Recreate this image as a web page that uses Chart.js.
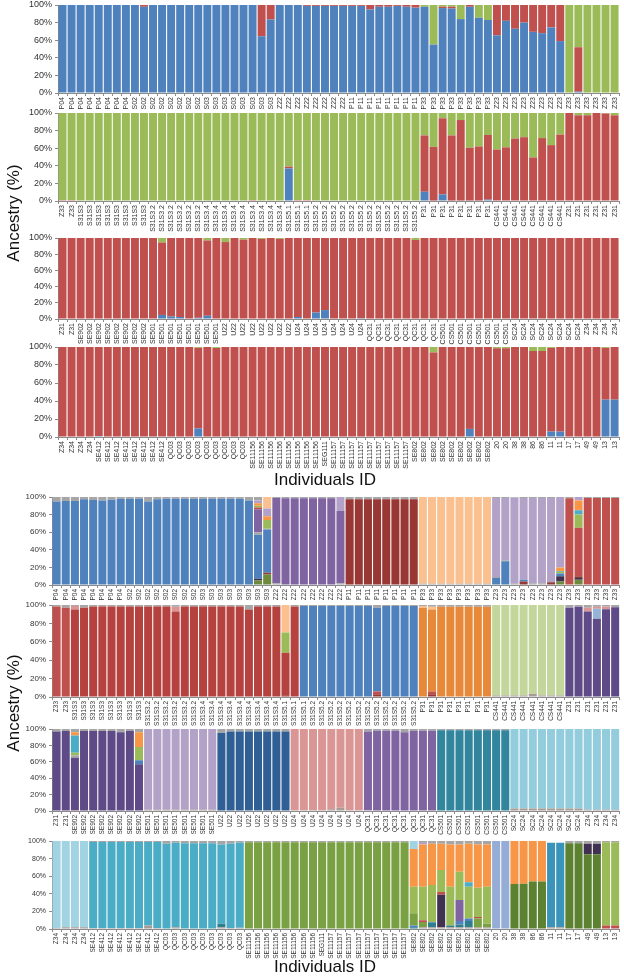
<!DOCTYPE html>
<html><head><meta charset="utf-8">
<script src="https://cdn.jsdelivr.net/npm/chart.js@4.4.1/dist/chart.umd.min.js"></script>
<style>
html,body{margin:0;padding:0;background:#fff;}
body{width:624px;height:980px;position:relative;overflow:hidden;font-family:"Liberation Sans",Arial,sans-serif;}
canvas{position:absolute;left:0;}
.t{position:absolute;color:#111;font-size:17px;white-space:nowrap;transform:translate(-50%,-50%);}
.r{transform:translate(-50%,-50%) rotate(-90deg);}
</style></head>
<body>
<canvas id="c1"></canvas><canvas id="c2"></canvas><canvas id="c3"></canvas><canvas id="c4"></canvas>
<canvas id="c5"></canvas><canvas id="c6"></canvas><canvas id="c7"></canvas><canvas id="c8"></canvas>
<div class="t r" style="left:14px;top:213px">Ancestry (%)</div>
<div class="t" style="left:325px;top:480px">Individuals ID</div>
<div class="t r" style="left:14px;top:703px">Ancestry (%)</div>
<div class="t" style="left:325px;top:967px">Individuals ID</div>
<script>
// ---------- tick labels (groups and counts) ----------
const groupsA = ['P04','S02','S03','Z22','P11','P33','Z23','Z33'];
const countsA = [8,8,8,8,8,8,8,6];
const groupsB = ['Z33','S31S3','S31S3.2','S31S3.4','S31S5.1','S31S5.2','P31','CS441','Z31'];
const countsB = [2,8,6,9,3,12,8,8,6];
const groupsC = ['Z31','SE902','SE501','U22','U24','QC31','CS501','SC24','Z34'];
const countsC = [2,8,8,8,8,8,8,8,4];
const groupsD = ['Z34','SE412','QC03','SE11156','SEG111','SE11157','SE802','20','38','86','11','17','49','13'];
const countsD = [4,8,9,8,1,9,9,2,2,2,2,2,2,2];

// ---------- panel 1 (K=3) ----------
const p1_blue = [100,100,100,100,100,100,100,100,100,98, 100,100,100,100,100,100,100,100,100,100,
 100,100,64.5,83.5,100,100,100,99,99,99, 99,99,99,99,95,98,98,99,98,97,
 98,55,96.5,96,84,98,85.5,83,65.5,82, 73,80,69.5,68,74.5,59,0,1.5,0,0, 0,0];
const p1_red = [0,0,0,0,0,0,0,0,0,2, 0,0,0,0,0,0,0,0,0,0,
 0,0,35.5,16.5,0,0,0,1,1,1, 1,1,1,1,5,2,2,1,2,3,
 0,0,1.5,2,0,2,0,0,34.5,18, 27,20,30.5,32,25.5,41,0,50.5,0,0, 0,0];
const p1_green = [0,0,0,0,0,0,0,0,0,0, 0,0,0,0,0,0,0,0,0,0,
 0,0,0,0,0,0,0,0,0,0, 0,0,0,0,0,0,0,0,0,0,
 2,45,2,2,16,0,14.5,17,0,0, 0,0,0,0,0,0,100,48,100,100, 100,100];
// ---------- panel 2 ----------
const p2_blue = [0,0,0,0,0,0,0,0,0,0, 0,0,0,0,0,0,0,0,0,0,
 0,0,0,0,0,37,0,0,0,0, 0,0,0,0,0,0,0,0,0,0,
 10.5,0.5,7.5,0.5,0.5,0.5,0.5,1.5,0,0, 0,0,0,0,0,0,0,0,0,0, 0,0];
const p2_red = [1,1,0,0,0,0,0,0,0,0, 0,0,0,0,0,0,0,0,0,0,
 0,1,0,0,0,2,1,1,0,0, 0,0,0,0,0,0,0,0,0,0,
 64,61,86.5,74,91.5,60,61.5,73.5,58.5,61, 71,72.5,49.5,71.5,63.5,75.5,100,97.5,97.5,100, 99.5,97.5];
const p2_green = [99,99,100,100,100,100,100,100,100,100, 100,100,100,100,100,100,100,100,100,100,
 100,99,100,100,100,61,99,99,100,100, 100,100,100,100,100,100,100,100,100,100,
 25.5,38.5,6,25.5,8,39.5,38,25,41.5,39, 29,27.5,50.5,28.5,36.5,24.5,0,2.5,2.5,0, 0.5,2.5];
// ---------- panel 3 ----------
const p3_blue = [0,0,0,0,0,0,0,0,0,0, 0,5,3,2.5,0,1.5,4,0,0,0,
 0,0,0,0,0,0,2.5,0,8,11, 0,0,0,1,0,0,0,0,0,0,
 0,0,0,0,0,0,0,0,0,0, 0,0,0,0,0,0,0,0,0,0, 0,0];
const p3_red = [100,100,100,100,100,100,100,100,100,100, 100,89.5,97,97.5,100,98.5,93,100,95,100,
 98,100,99,100,99,100,97.5,100,92,89, 100,100,100,99,100,100,100,100,100,97.5,
 100,100,100,100,100,100,100,100,100,100, 100,100,100,100,100,100,100,100,100,100, 100,100];
const p3_green = [0,0,0,0,0,0,0,0,0,0, 0,5.5,0,0,0,0,3,0,5,0,
 2,0,1,0,1,0,0,0,0,0, 0,0,0,0,0,0,0,0,0,2.5,
 0,0,0,0,0,0,0,0,0,0, 0,0,0,0,0,0,0,0,0,0, 0,0];
// ---------- panel 4 ----------
const p4_blue = [0,0,0,0,1,0,0,0,0,0, 0.5,0,0,0,0,9.5,0,0.5,0,0.5,
 0.5,0,0,0,0,0,0,0,0,0, 0,0,0,0,0,0,0,0,0,0,
 0,0,0,0,0,9,0,0,0,0, 0,0,0,0,6,6,0,0,0,0, 41.5,41.5];
const p4_red = [100,100,100,100,99,100,100,100,100,100, 99.5,100,100,100,100,89.5,100,98.5,100,99.5,
 99.5,100,100,100,100,100,100,100,100,100, 100,100,100,100,100,100,100,100,100,100,
 100,94,100,100,100,91,100,100,98.5,98.5, 100,100,95.5,95.5,93,94,100,100,100,100, 57.5,58.5];
const p4_green = [0,0,0,0,0,0,0,0,0,0, 0,0,0,0,0,1,0,1,0,0,
 0,0,0,0,0,0,0,0,0,0, 0,0,0,0,0,0,0,0,0,0,
 0,6,0,0,0,0,0,0,1.5,1.5, 0,0,4.5,4.5,1,0,0,0,0,0, 1,0];

// ---------- panel 5 (many clusters) ----------
const p5_dkgreen = [0,0,0,0,0,0,0,0,0,0, 0,0,0,0,0,0,0,0,0,0, 0,0,5,12,0,0,0,0,0,0, 0,0,0,0,0,0,0,0,0,0, 0,0,0,0,0,0,0,0,0,0, 0,0,0,0,0,4,0,6,0,0, 0,0];
const p5_dkpurple = [0,0,0,0,0,0,0,0,0,0, 0,0,0,0,0,0,0,0,0,0, 0,0,2,0,0,0,0,0,0,0, 0,0,0,0,0,0,0,0,0,0, 0,0,0,0,0,0,0,0,0,0, 0,0,0,0,0,6,0,2,0,0, 0,0];
const p5_brown = [0,0,0,0,0,0,0,0,0,0, 0,0,0,0,0,0,0,0,0,0, 0,0,0,2,0,0,0,0,0,0, 0,0,0,0,0,0,0,0,0,0, 0,0,0,0,0,0,0,0,0,0, 0,4,0,0,3,0,0,2,0,0, 0,0];
const p5_blue = [95,95.5,95.5,97.5,96.5,96,97,98,98,98, 95,97.5,98,98,98,98,98,98,98,98, 98,96,50,49,0,0,0,0,0,0, 0,0,0,0,0,0,0,0,0,0, 0,0,0,0,0,0,0,0,8,27, 0,2,0,0,0,3,0,0,0,0, 0,0];
const p5_greyMid = [0,0,0,0,0,0,0,0,0,0, 0,0,0,0,0,0,0,0,0,0, 0,0,3,1,2,0,0,0,0,0, 0,2,0,0,0,0,0,0,0,0, 1.5,1.5,1.5,1.5,1.5,1.5,1.5,1.5,1,1, 1.5,0,2,2,0,0,0,0,0,0, 0,0];
const p5_purple = [0,0,0,0,0,0,0,0,0,0, 0,0,0,0,0,0,0,0,0,0, 0,0,26,0,97,98.5,98.5,98.5,98.5,98.5, 98.5,82,0,0,0,0,0,0,0,0, 0,0,0,0,0,0,0,0,0,0, 0,0,0,0,0,0,0,0,0,0, 0,0];
const p5_darkred = [0,0,0,0,0,0,0,0,0,0, 0,0,0,0,0,0,0,0,0,0, 0,0,0,0,0,0,0,0,0,0, 0,0,97.5,97.5,97.5,97.5,97.5,97.5,97.5,97.5, 0,0,0,0,0,0,0,0,0,0, 0,0,0,0,0,0,0,0,0,0, 0,0];
const p5_red = [0,0,0,0,0,0,0,0,0,0, 0,0,0,0,0,0,0,0,0,0, 0,0,2,0,0,0,0,0,0,0, 0,0,0,0,0,0,0,0,0,0, 0,0,0,0,0,0,0,0,0,0, 0,0,0,0,0,0,98.5,55,99,99, 99,99];
const p5_ltgreen = [0,0,0,0,0,0,0,0,0,0, 0,0,0,0,0,0,0,0,0,0, 0,0,2,10,0,0,0,0,0,0, 0,0,0,0,0,0,0,0,0,0, 0,0,0,0,0,0,0,0,0,0, 0,0,0,0,0,2,0,15,0,0, 0,0];
const p5_cyan = [0,0,0,0,0,0,0,0,0,0, 0,0,0,0,0,0,0,0,0,0, 0,0,0,0,0,0,0,0,0,0, 0,0,0,0,0,0,0,0,0,0, 0,0,0,0,0,0,0,0,0,0, 0,0,0,0,0,1,0,5,0,0, 0,0];
const p5_orange = [0,0,0,0,0,0,0,0,0,0, 0,0,0,0,0,0,0,0,0,0, 0,0,3,4,0,0,0,0,0,0, 0,0,0,0,0,0,0,0,0,0, 0,0,0,0,0,0,0,0,0,0, 0,0,0,0,0,4,0,11,0,0, 0,0];
const p5_lavender = [0,0,0,0,0,0,0,0,0,0, 0,0,0,0,0,0,0,0,0,0, 0,0,3,9,0,0,0,0,0,0, 0,16,0,0,0,0,0,0,0,0, 0,0,0,0,0,0,0,0,90,71, 98,93,97,97,96,80,0,4,0,0, 0,0];
const p5_peach = [0,0,0,0,0,0,0,0,0,0, 0,0,0,0,0,0,0,0,0,0, 0,0,0,13,0,0,0,0,0,0, 0,0,0,0,0,0,0,0,0,0, 98.5,98.5,98.5,98.5,98.5,98.5,98.5,98.5,0,0, 0,0,0,0,0,0,0,0,0,0, 0,0];
const p5_greyTop = [5,4.5,4.5,2.5,3.5,4,3,2,2,2, 5,2.5,2,2,2,2,2,2,2,2, 2,4,4,0,1,1.5,1.5,1.5,1.5,1.5, 1.5,0,2.5,2.5,2.5,2.5,2.5,2.5,2.5,2.5, 0,0,0,0,0,0,0,0,1,1, 0.5,1,1,1,1,0,1.5,0,1,1, 1,1];

// ---------- panel 6 ----------
const p6_greyB = [0,0,0,0,0,0,0,0,0,0, 0,0,0,0,0,0,0,0,0,0, 0,0,0,0,0,0,0,0,0,0, 0,0,0,0,0,0,0,0,0,0, 0,0,0,0,0,0,0,0,1.5,1.5, 1.5,1.5,3.5,1.5,1.5,1.5,0,0,0,0, 0,0];
const p6_dkred = [0,0,0,0,0,0,0,0,0,0, 0,0,0,0,0,0,0,0,0,0, 0,0,0,0,0,2,0,0,0,0, 0,0,0,0,0,3,0,0,0,0, 0,3,0,0,0,0,0,0,0,0, 0,0,0,0,0,0,0,0,0,0, 0,0];
const p6_red = [98.5,97,0,0,0,0,0,0,0,0, 0,0,0,0,0,0,0,0,0,0, 0,0,0,0,0,0,0,0,0,0, 0,0,0,0,0,3,0,0,0,0, 0,3,0,0,0,0,0,0,0,0, 0,0,0,0,0,0,0,0,0,0, 0,0];
const p6_brick = [0,0,95,97,98.5,98.5,98.5,98.5,98.5,98.5, 98.5,98.5,98.5,93,98.5,98.5,98.5,98.5,98.5,98.5, 98.5,95,98.5,98.5,98.5,46,98.5,0,0,0, 0,0,0,0,0,0,0,0,0,0, 0,0,0,0,0,0,0,0,0,0, 0,0,0,0,0,0,0,0,0,0, 0,0];
const p6_blue = [0,0,0,0,0,0,0,0,0,0, 0,0,0,0,0,0,0,0,0,0, 0,0,0,0,0,0,0,99,99,99, 99,99,99,99,99,91,99,99,99,99, 0,0,0,0,0,0,0,0,0,0, 0,0,0,0,0,0,0,0,0,0, 0,0];
const p6_orange = [0,0,0,0,0,0,0,0,0,0, 0,0,0,0,0,0,0,0,0,0, 0,0,0,0,0,0,0,0,0,0, 0,0,0,0,0,0,0,0,0,0, 97,89,98,98,98,98,98,98,0,0, 0,0,0,0,0,0,0,0,0,0, 0,0];
const p6_ltgreen = [0,0,0,0,0,0,0,0,0,0, 0,0,0,0,0,0,0,0,0,0, 0,0,0,0,0,0,0,0,0,0, 0,0,0,0,0,0,0,0,0,0, 0,0,0,0,0,0,0,0,98.5,98.5, 98.5,98.5,96.5,98.5,98.5,98.5,0,0,0,0, 0,0];
const p6_dkpurple = [0,0,0,0,0,0,0,0,0,0, 0,0,0,0,0,0,0,0,0,0, 0,0,0,0,0,0,0,0,0,0, 0,0,0,0,0,0,0,0,0,0, 0,0,0,0,0,0,0,0,0,0, 0,0,0,0,0,0,97,98,93,85, 95.5,97.5];
const p6_olive = [0,0,0,0,0,0,0,0,0,0, 0,0,0,0,0,0,0,0,0,0, 0,0,0,0,0,22,0,0,0,0, 0,0,0,0,0,0,0,0,0,0, 0,0,0,0,0,0,0,0,0,0, 0,0,0,0,0,0,0,0,0,0, 0,0];
const p6_ltblue = [0,0,0,0,0,0,0,0,0,0, 0,0,0,0,0,0,0,0,0,0, 0,0,0,0,0,0,0,0,0,0, 0,0,0,0,0,0,0,0,0,0, 0,0,0,0,0,0,0,0,0,0, 0,0,0,0,0,0,0,0,0,11, 0,0];
const p6_pink = [0,0,4,0,0,0,0,0,0,0, 0,0,0,5,0,0,0,0,0,0, 0,0,0,0,0,0,0,0,0,0, 0,0,0,0,0,0,0,0,0,0, 0,0,0,0,0,0,0,0,0,0, 0,0,0,0,0,0,0,0,4,2, 3,0];
const p6_peach = [0,0,0,0,0,0,0,0,0,0, 0,0,0,0,0,0,0,0,0,0, 0,0,0,0,0,30,0,0,0,0, 0,0,0,0,0,0,0,0,0,0, 2,3,0,0,0,0,0,0,0,0, 0,0,0,0,0,0,0,0,0,0, 0,0];
const p6_greyTop = [1.5,3,1,3,1.5,1.5,1.5,1.5,1.5,1.5, 1.5,1.5,1.5,2,1.5,1.5,1.5,1.5,1.5,1.5, 1.5,5,1.5,1.5,1.5,0,1.5,1,1,1, 1,1,1,1,1,3,1,1,1,1, 1,2,2,2,2,2,2,2,0,0, 0,0,0,0,0,0,3,2,3,2, 1.5,2.5];

// ---------- panel 7 ----------
const p7_greyB = [0,0,0,0,0,0,0,0,0,0, 1.5,1.5,1.5,1.5,1.5,1.5,1.5,1.5,0,0, 0,0,0,0,0,0,1,1,1,1, 2,4,1,1,1,0,0,0,0,0, 0,0,0,0,0,0,0,0,0,0, 3,3,3,3,3,3,3,3,1.5,1.5, 1.5,1.5];
const p7_dkred = [0,0,1,0,0,0,0,0,0,0, 0,0,0,0,0,0,0,0,0,0, 0,0,0,0,0,0,0,0,0,0, 0,0,0,0,0,0,0,0,0,0, 0,0,0,0,0,0,0,0,0,0, 0,0,0,0,0,0,0,0,0,0, 0,0];
const p7_dkpurple = [97,97.5,64,97.5,97.5,97.5,97.5,96,97.5,57, 0,0,0,0,0,0,0,0,0,0, 0,0,0,0,0,0,0,0,0,0, 0,0,0,0,0,0,0,0,0,0, 0,0,0,0,0,0,0,0,0,0, 0,0,0,0,0,0,0,0,0,0, 0,0];
const p7_greyMid = [0,0,3,0,0,0,0,0,0,0, 0,0,0,0,0,0,0,0,0,0, 0,0,0,0,0,0,0,0,0,0, 0,0,0,0,0,0,0,0,0,0, 0,0,0,0,0,0,0,0,0,0, 0,0,0,0,0,0,0,0,0,0, 0,0];
const p7_blue = [0,0,0,0,0,0,0,0,0,5, 0,0,0,0,0,0,0,0,0,0, 0,0,0,0,0,0,0,0,0,0, 0,0,0,0,0,0,0,0,0,0, 0,0,0,0,0,0,0,0,0,0, 0,0,0,0,0,0,0,0,0,0, 0,0];
const p7_lavender = [0,0,0,0,0,0,0,0,0,0, 98.5,98.5,98.5,98.5,98.5,98.5,98.5,98.5,0,0, 0,0,0,0,0,0,0,0,0,0, 0,0,0,0,0,0,0,0,0,0, 0,0,0,0,0,0,0,0,0,0, 0,0,0,0,0,0,0,0,0,0, 0,0];
const p7_dkblue = [0,0,0,0,0,0,0,0,0,0, 0,0,0,0,0,0,0,0,95,97, 97,97,97,97,97,97,0,0,0,0, 0,0,0,0,0,0,0,0,0,0, 0,0,0,0,0,0,0,0,0,0, 0,0,0,0,0,0,0,0,0,0, 0,0];
const p7_pink = [0,0,0,0,0,0,0,0,0,0, 0,0,0,0,0,0,0,0,0,0, 0,0,0,0,0,0,99,99,99,99, 98,96,99,99,0,0,0,0,0,0, 0,0,0,0,0,0,0,0,0,0, 0,0,0,0,0,0,0,0,0,0, 0,0];
const p7_purple = [0,0,0,0,0,0,0,0,0,0, 0,0,0,0,0,0,0,0,0,0, 0,0,0,0,0,0,0,0,0,0, 0,0,0,0,96,98,98,98,96,98, 98,98,0,0,0,0,0,0,0,0, 0,0,0,0,0,0,0,0,0,0, 0,0];
const p7_teal = [0,0,0,0,0,0,0,0,0,0, 0,0,0,0,0,0,0,0,0,0, 0,0,0,0,0,0,0,0,0,0, 0,0,0,0,0,0,0,0,0,0, 0,0,98.5,98.5,98.5,98.5,98.5,98.5,98.5,98.5, 0,0,0,0,0,0,0,0,0,0, 0,0];
const p7_ltblue = [0,0,0,0,0,0,0,0,0,0, 0,0,0,0,0,0,0,0,0,0, 0,0,0,0,0,0,0,0,0,0, 0,0,0,0,0,0,0,0,0,0, 0,0,0,0,0,0,0,0,0,0, 97,97,97,97,97,97,97,97,98.5,98.5, 98.5,98.5];
const p7_ltgreen = [0,0,3,0,0,0,0,0,0,16, 0,0,0,0,0,0,0,0,0,0, 0,0,0,0,0,0,0,0,0,0, 0,0,0,0,0,0,0,0,0,0, 0,0,0,0,0,0,0,0,0,0, 0,0,0,0,0,0,0,0,0,0, 0,0];
const p7_cyan = [0,0,21,0,0,0,0,0,0,0, 0,0,0,0,0,0,0,0,0,0, 0,0,0,0,0,0,0,0,0,0, 0,0,0,0,0,0,0,0,0,0, 0,0,0,0,0,0,0,0,0,0, 0,0,0,0,0,0,0,0,0,0, 0,0];
const p7_orange = [0,0,4,0,0,0,0,0,0,18, 0,0,0,0,0,0,0,0,0,0, 0,0,0,0,0,0,0,0,0,0, 0,0,0,0,0,0,0,0,0,0, 0,0,0,0,0,0,0,0,0,0, 0,0,0,0,0,0,0,0,0,0, 0,0];
const p7_greyTop = [3,2.5,4,2.5,2.5,2.5,2.5,4,2.5,4, 0,0,0,0,0,0,0,0,5,3, 3,3,3,3,3,3,0,0,0,0, 0,0,0,0,3,2,2,2,4,2, 2,2,1.5,1.5,1.5,1.5,1.5,1.5,1.5,1.5, 0,0,0,0,0,0,0,0,0,0, 0,0];

// ---------- panel 8 ----------
const p8_greyB = [1,2,2,2,1,1,1,1,1,1, 4,1,0,2,0,0,0,0,2,1, 1.5,0,0,0,0,0,0,0,0,0, 0,0,0,0,0,0,0,0,0,0, 2,2,2,2,2,2,2,2,0,0, 0,0,0,0,2,2,0,0,0,0, 0,0];
const p8_teal = [0,0,0,0,0,0,0,0,0,0, 0,0,0,0,0,0,0,0,4,0, 0,0,0,0,0,0,0,0,0,0, 0,0,0,0,0,0,0,0,0,2, 0,5,0,2,3,7,0,0,0,0, 0,0,0,0,0,0,0,0,0,0, 0,0];
const p8_blue = [0,0,0,0,0,0,0,0,0,0, 0,0,0,0,0,0,0,0,0,0, 0,0,0,0,0,0,0,0,0,0, 0,0,0,0,0,0,0,0,0,2, 0,1,0,0,4,3,0,0,0,0, 0,0,0,0,0,0,0,0,0,0, 0,0];
const p8_dkgreen = [0,0,0,0,0,0,0,0,0,0, 0,0,0,0,0,0,0,0,0,0, 0,0,0,0,0,0,0,0,0,0, 0,0,0,0,0,0,0,0,0,0, 0,0,0,0,0,0,0,0,0,0, 51,51.5,54,54,0,0,97.5,97.5,85,85, 0,0];
const p8_olive = [0,0,0,0,0,0,0,0,0,0, 0,0,0,0,0,0,0,0,0,0, 0,98.5,98.5,98.5,98.5,98.5,98.5,98.5,98.5,98.5, 98.5,98.5,98.5,98.5,98.5,98.5,98.5,98.5,98.5,14, 6,0,0,0,0,0,10,4,0,0, 0,0,0,0,0,0,0,0,0,0, 0,0];
const p8_dkpurple = [0,0,0,0,0,0,0,0,0,0, 0,0,0,0,0,0,0,0,0,0, 0,0,0,0,0,0,0,0,0,0, 0,0,0,0,0,0,0,0,0,0, 0,0,37,0,0,0,0,0,0,0, 0,0,0,0,0,0,0,0,12,12, 0,0];
const p8_purple = [0,0,0,0,0,0,0,0,0,0, 0,0,0,0,0,0,0,0,0,0, 0,0,0,0,0,0,0,0,0,0, 0,0,0,0,0,0,0,0,0,0, 0,0,0,0,24,0,0,0,0,0, 0,0,0,0,0,0,0,0,0,0, 0,0];
const p8_red = [0,0,0,0,0,0,0,0,0,0, 0,0,0,0,0,0,0,0,0,0, 0,0,0,0,0,0,0,0,0,0, 0,0,0,0,0,0,0,0,0,0, 2,0,3,0,0,0,1.5,0,0,0, 0,0,0,0,0,0,0,0,0,0, 4,4];
const p8_ltgreen = [0,0,0,0,0,0,0,0,0,0, 0,0,0,0,0,0,0,0,0,0, 0,0,0,0,0,0,0,0,0,0, 0,0,0,0,0,0,0,0,0,30, 38,42,25,44,32,36,33.5,42,0,0, 0,0,0,0,0,0,0,0,0,0, 94.5,94.5];
const p8_cyan = [0,0,0,0,98,98,98,98,98,98, 95,98,97,96,97.5,97.5,97.5,97.5,90,96, 96.5,0,0,0,0,0,0,0,0,0, 0,0,0,0,0,0,0,0,0,0, 0,0,0,0,0,5,0,0,0,0, 0,0,0,0,0,0,0,0,0,0, 0,0];
const p8_orange = [0,0,0,0,0,0,0,0,0,0, 0,0,0,0,0,0,0,0,0,0, 0,0,0,0,0,0,0,0,0,0, 0,0,0,0,0,0,0,0,0,43, 48,47,30,48,31,44,49,48,0,0, 49,48.5,46,46,0,0,0,0,0,0, 0,0];
const p8_paleblue = [99,98,98,98,0,0,0,0,0,0, 0,0,0,0,0,0,0,0,0,0, 0,0,0,0,0,0,0,0,0,0, 0,0,0,0,0,0,0,0,0,9, 0,0,0,0,0,0,0,0,0,0, 0,0,0,0,0,0,0,0,0,0, 0,0];
const p8_periwinkle = [0,0,0,0,0,0,0,0,0,0, 0,0,0,0,0,0,0,0,0,0, 0,0,0,0,0,0,0,0,0,0, 0,0,0,0,0,0,0,0,0,0, 0,0,0,0,0,0,0,0,100,100, 0,0,0,0,0,0,0,0,0,0, 0,0];
const p8_tealblue = [0,0,0,0,0,0,0,0,0,0, 0,0,0,0,0,0,0,0,0,0, 0,0,0,0,0,0,0,0,0,0, 0,0,0,0,0,0,0,0,0,0, 0,0,0,0,0,0,0,0,0,0, 0,0,0,0,96,96,0,0,0,0, 0,0];
const p8_lavender = [0,0,0,0,0,0,0,0,0,0, 0,0,0,0,0,0,0,0,0,0, 0,0,0,0,0,0,0,0,0,0, 0,0,0,0,0,0,0,0,0,0, 3,0,0,0,0,0,0,0,0,0, 0,0,0,0,0,0,0,0,0,0, 0,0];
const p8_greyTop = [0,0,0,0,1,1,1,1,1,1, 1,1,3,2,2.5,2.5,2.5,2.5,4,3, 2,1.5,1.5,1.5,1.5,1.5,1.5,1.5,1.5,1.5, 1.5,1.5,1.5,1.5,1.5,1.5,1.5,1.5,1.5,0, 1,3,3,4,4,3,4,4,0,0, 0,0,0,0,0,0,2.5,2.5,3,3, 1.5,1.5];

// ---------- build ----------
function rep(groups, counts){ const out=[]; groups.forEach((g,k)=>{ for(let j=0;j<counts[k];j++) out.push(g); }); return out; }
const labels1 = rep(groupsA, countsA), labels2 = rep(groupsB, countsB), labels3 = rep(groupsC, countsC), labels4 = rep(groupsD, countsD);

const C = {blue:'#4F81BD', red:'#C0504D', green:'#9BBB59', grey:'#A6A6A6', greyB:'#A89C97',
  dkgreen:'#6E8B3D', dkpurple5:'#403151', brown:'#8E3A36', purple:'#8064A2', darkred:'#983734',
  peach:'#FAC090', lavender:'#B3A2C7', cyan:'#4BACC6', orange:'#F79646', orange2:'#E8893A',
  brick:'#B5423F', ltgreen2:'#C3D69B', dkpurple:'#5E4A86', ltblue:'#95B3D7', pink:'#DA9694',
  dkblue:'#2F5F95', teal:'#31859C', skyblue:'#93CDDD', paleblue:'#A2D3E3', olive:'#79A042',
  dkgreen8:'#5C8130', periwinkle:'#95ADD6', tealblue:'#3A93B8', teal8:'#2E7F8E'};

function ds(data, color){ return {data:data, backgroundColor:color, borderWidth:0, barPercentage:0.88, categoryPercentage:1}; }

const panels = [
 {id:'c1', plotTop:5, plotBottom:93, lab:28, left:58, right:620, labels:labels1, step:20, yfont:9, xfont:7,
  sets:[ds(p1_blue,C.blue), ds(p1_red,C.red), ds(p1_green,C.green)]},
 {id:'c2', plotTop:113, plotBottom:201, lab:36, left:58, right:620, labels:labels2, step:20, yfont:9, xfont:7,
  sets:[ds(p2_blue,C.blue), ds(p2_red,C.red), ds(p2_green,C.green)]},
 {id:'c3', plotTop:238, plotBottom:319, lab:28, left:58, right:620, labels:labels3, step:20, yfont:9, xfont:7,
  sets:[ds(p3_blue,C.blue), ds(p3_red,C.red), ds(p3_green,C.green)]},
 {id:'c4', plotTop:347, plotBottom:437, lab:34, left:58, right:620, labels:labels4, step:20, yfont:9, xfont:7,
  sets:[ds(p4_blue,C.blue), ds(p4_red,C.red), ds(p4_green,C.green)]},
 {id:'c5', plotTop:497, plotBottom:585, lab:22, left:52, right:622, labels:labels1, step:20, yfont:8, xfont:6.5,
  sets:[ds(p5_dkgreen,C.dkgreen), ds(p5_dkpurple,C.dkpurple5), ds(p5_brown,C.brown), ds(p5_blue,C.blue),
        ds(p5_greyMid,C.grey), ds(p5_purple,C.purple), ds(p5_darkred,C.darkred), ds(p5_red,C.red),
        ds(p5_ltgreen,C.green), ds(p5_cyan,C.cyan), ds(p5_orange,C.orange), ds(p5_lavender,C.lavender),
        ds(p5_peach,C.peach), ds(p5_greyTop,C.grey)]},
 {id:'c6', plotTop:605, plotBottom:697, lab:30, left:52, right:622, labels:labels2, step:20, yfont:8, xfont:6.5,
  sets:[ds(p6_greyB,C.greyB), ds(p6_dkred,C.darkred), ds(p6_red,C.red), ds(p6_brick,C.brick), ds(p6_blue,C.blue),
        ds(p6_orange,C.orange2), ds(p6_ltgreen,C.ltgreen2), ds(p6_dkpurple,C.dkpurple), ds(p6_olive,C.green),
        ds(p6_ltblue,C.ltblue), ds(p6_pink,C.pink), ds(p6_peach,C.peach), ds(p6_greyTop,C.grey)]},
 {id:'c7', plotTop:729, plotBottom:811, lab:24, left:52, right:622, labels:labels3, step:20, yfont:8, xfont:6.5,
  sets:[ds(p7_greyB,C.greyB), ds(p7_dkred,C.darkred), ds(p7_dkpurple,C.dkpurple), ds(p7_greyMid,C.grey),
        ds(p7_blue,C.blue), ds(p7_lavender,C.lavender), ds(p7_dkblue,C.dkblue), ds(p7_pink,C.pink),
        ds(p7_purple,C.purple), ds(p7_teal,C.teal), ds(p7_ltblue,C.skyblue), ds(p7_ltgreen,C.green),
        ds(p7_cyan,C.cyan), ds(p7_orange,C.orange), ds(p7_greyTop,C.grey)]},
 {id:'c8', plotTop:841, plotBottom:929, lab:36, left:52, right:622, labels:labels4, step:10, yfont:7, xfont:6.5,
  sets:[ds(p8_greyB,C.greyB), ds(p8_teal,C.teal8), ds(p8_blue,C.blue), ds(p8_dkgreen,C.dkgreen8),
        ds(p8_olive,C.olive), ds(p8_dkpurple,C.dkpurple5), ds(p8_purple,C.purple), ds(p8_red,C.red),
        ds(p8_ltgreen,C.green), ds(p8_cyan,C.cyan), ds(p8_orange,C.orange), ds(p8_paleblue,C.paleblue),
        ds(p8_periwinkle,C.periwinkle), ds(p8_tealblue,C.tealblue), ds(p8_lavender,C.lavender), ds(p8_greyTop,C.grey)]}
];

const PADTOP = 10;
panels.forEach(p => {
  const cv = document.getElementById(p.id);
  const top = p.plotTop - PADTOP;
  const h = p.plotBottom - top + p.lab;
  cv.width = 624; cv.height = h;
  cv.style.top = top + 'px'; cv.style.width = '624px'; cv.style.height = h + 'px';
  new Chart(cv, {
    type: 'bar',
    data: {labels: p.labels, datasets: p.sets},
    options: {
      responsive: false, animation: false, devicePixelRatio: 1,
      layout: {padding: {top: PADTOP, left: 0, right: 624 - p.right, bottom: 0}},
      plugins: {legend: {display: false}, tooltip: {enabled: false}},
      scales: {
        x: {stacked: true, offset: true,
            grid: {display: true, drawOnChartArea: false, drawTicks: true, tickLength: 3, color: '#8C8C8C', offset: true},
            border: {display: true, color: '#8C8C8C'},
            ticks: {autoSkip: false, maxRotation: 90, minRotation: 90, padding: 1,
                    font: {family: 'Liberation Sans', size: p.xfont}, color: '#333333'},
            afterFit: s => { s.height = p.lab; }},
        y: {stacked: true, min: 0, max: 100,
            grid: {display: true, drawOnChartArea: false, drawTicks: true, tickLength: 3, color: '#8C8C8C'},
            border: {display: true, color: '#8C8C8C'},
            ticks: {stepSize: p.step, padding: 3, callback: v => v + '%',
                    font: {family: 'Liberation Sans', size: p.yfont}, color: '#333333'},
            afterFit: s => { s.width = p.left; }}
      }
    }
  });
});
</script>
</body></html>
